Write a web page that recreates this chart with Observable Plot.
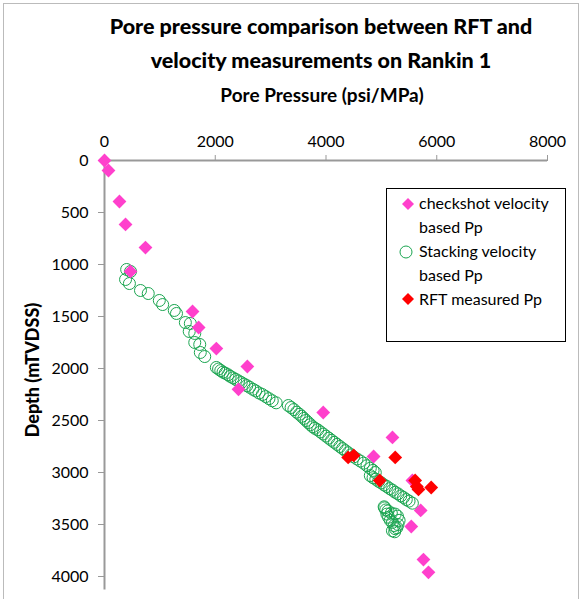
<!DOCTYPE html>
<html><head><meta charset="utf-8">
<script src="https://cdn.jsdelivr.net/npm/d3@7"></script>
<script src="https://cdn.jsdelivr.net/npm/@observablehq/plot@0.6"></script>
<style>
body{margin:0;font-family:Lato,sans-serif;}
#wrap{position:relative;width:581px;height:599px;}
.t{position:absolute;left:0;width:642px;text-align:center;font-weight:900;font-size:21.5px;}
#frame{position:absolute;left:3px;top:3px;width:574px;height:600px;border:1px solid #bbb;}
#legend{position:absolute;left:386px;top:188px;width:178px;height:152px;border:1px solid #000;background:#fff;font-size:16px;line-height:24px;}
.li{position:absolute;left:32px;}
.sym{position:absolute;left:14px;}
</style></head><body>
<div id="wrap">
<div id="frame"></div>
<div id="plot" style="position:absolute;left:0;top:0"></div>
<div class="t" style="top:13px">Pore pressure comparison between RFT and</div>
<div class="t" style="top:47px">velocity measurements on Rankin 1</div>
<div style="position:absolute;left:172px;width:300px;text-align:center;top:83px;font-weight:bold;font-size:19px">Pore Pressure (psi/MPa)</div>
<div style="position:absolute;left:32px;top:370px;transform:translate(-50%,-50%) rotate(-90deg);font-weight:900;font-size:18px;white-space:nowrap">Depth (mTVDSS)</div>
<div id="legend">
<svg class="sym" style="top:8px" width="14" height="14"><path d="M7 1L13 7L7 13L1 7Z" fill="#ff40cc"/></svg>
<div class="li" style="top:2px">checkshot velocity<br>based Pp</div>
<svg class="sym" style="top:54px;left:10px" width="18" height="18"><circle cx="9" cy="9" r="6" fill="none" stroke="#1aa550"/></svg>
<div class="li" style="top:50px">Stacking velocity<br>based Pp</div>
<svg class="sym" style="top:103px" width="14" height="14"><path d="M7 1L13 7L7 13L1 7Z" fill="#ff0000"/></svg>
<div class="li" style="top:98px">RFT measured Pp</div>
</div>
</div>
<script>
const checkX=[0,72,270,380,740,470,1590,1700,2020,2580,2420,3950,5200,4860,5560,5710,5540,5760,5850];
const checkY=[0,96,394,615,837,1067,1452,1606,1808,1981,2200,2423,2663,2846,3077,3365,3519,3837,3960];
const rftX=[4400,4500,5250,4970,5610,5670,5900,5640];
const rftY=[2855,2836,2855,3077,3077,3163,3144,3135];
const stackX=[400,470,380,450,650,790,990,1050,1260,1300,1460,1550,1530,1630,1630,1720,1730,1810,
2020,2060,2100,2140,2180,2230,2270,2320,2370,2420,2470,2520,2570,2620,2680,2730,2790,2850,2910,2970,3030,3100,
3320,3370,3420,3470,3520,3560,3600,3640,3680,3720,3760,3800,3850,3900,3950,4000,4050,4100,4150,4200,4250,4300,4350,4400,4450,4500,4560,4620,4680,4740,4800,4850,4890,
4800,4850,4900,4950,5000,5050,5100,5150,5200,5250,5300,5350,5400,5450,5500,5560,
5050,5080,5100,5130,5160,5200,5230,5250,5200,5240,5280,5300,5320,5290,5250,5180,5120,5060];
const stackY=[1048,1067,1144,1183,1250,1279,1346,1385,1442,1471,1558,1567,1644,1663,1750,1769,1846,1885,
1990,2005,2020,2035,2045,2060,2075,2090,2105,2120,2135,2150,2165,2180,2200,2215,2235,2250,2270,2290,2310,2330,
2356,2375,2395,2420,2440,2460,2480,2500,2520,2540,2560,2575,2590,2610,2630,2650,2670,2690,2710,2730,2750,2770,2790,2810,2830,2850,2870,2890,2910,2935,2960,2980,3000,
3030,3050,3065,3085,3100,3120,3135,3155,3170,3190,3205,3225,3240,3260,3275,3295,
3330,3360,3400,3430,3460,3480,3510,3540,3560,3570,3530,3500,3460,3420,3400,3390,3370,3340];
const xTicks=[0,2000,4000,6000,8000];
const yTicks=[0,500,1000,1500,2000,2500,3000,3500,4000];
const pts=(xs,ys)=>xs.map((x,i)=>({x,y:ys[i]}));
const diamond={draw(ctx,size){const r=Math.sqrt(size/Math.PI)*1.15;ctx.moveTo(0,-r);ctx.lineTo(r,0);ctx.lineTo(0,r);ctx.lineTo(-r,0);ctx.closePath();}};
const p=Plot.plot({
 width:581,height:599,marginLeft:104,marginRight:34,marginTop:160,marginBottom:23,
 style:{fontSize:"16px",fontFamily:"Lato, sans-serif",background:"transparent"},
 x:{domain:[0,8000],axis:null},
 y:{domain:[0,4000],reverse:true,axis:null},
 marks:[
  Plot.ruleY([0],{stroke:"#999",strokeWidth:2}),
  Plot.ruleX([0],{stroke:"#999",strokeWidth:2,y1:0,y2:4130}),
  Plot.axisX({anchor:"top",ticks:xTicks,tickFormat:d=>String(d),label:null,stroke:"#999",tickPadding:8,tickSize:6}),
  Plot.axisY({anchor:"left",ticks:yTicks,tickFormat:d=>String(d),label:null,stroke:"#999",tickPadding:10,tickSize:6}),
  Plot.dot(pts(stackX,stackY),{x:"x",y:"y",r:6,stroke:"#1aa550",fill:"none",strokeWidth:1}),
  Plot.dot(pts(checkX,checkY),{x:"x",y:"y",r:6,symbol:diamond,fill:"#ff40cc",stroke:"none"}),
  Plot.dot(pts(rftX,rftY),{x:"x",y:"y",r:6,symbol:diamond,fill:"#ff0000",stroke:"none"})
 ]});
document.getElementById("plot").appendChild(p);
</script></body></html>
